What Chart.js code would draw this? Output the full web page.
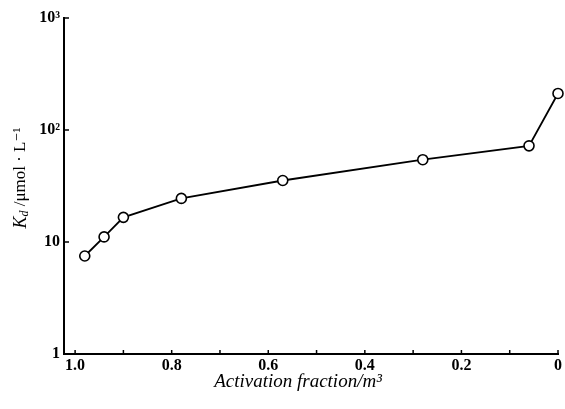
<!DOCTYPE html>
<html>
<head>
<meta charset="utf-8">
<script src="https://cdn.jsdelivr.net/npm/chart.js@4.4.1/dist/chart.umd.min.js"></script>
<style>
  html, body { margin: 0; padding: 0; background: #fff; }
  #wrap { width: 565px; height: 409px; }
</style>
</head>
<body>
<div id="wrap"><canvas id="chart" width="565" height="409"></canvas></div>
<script>
// data
const activation = [0.98, 0.94, 0.90, 0.78, 0.57, 0.28, 0.06, 0.0];
const kd = [7.5, 11.1, 16.6, 24.5, 35.4, 54.3, 72.2, 212];

const xTicks = [1.0, 0.8, 0.6, 0.4, 0.2, 0];
const xTickLabels = ['1.0', '0.8', '0.6', '0.4', '0.2', '0'];
const xMinorTicks = [0.9, 0.7, 0.5, 0.3, 0.1];
const yTicks = [1, 10, 100, 1000];
const yTickLabels = ['1', '10', '10²', '10³'];
const xTitle = 'Activation fraction/m³';

const serif = '"Liberation Serif", "DejaVu Serif", serif';

// inward tick marks and axis titles
const extras = {
    id: 'extras',
    afterDraw(chart) {
        const ctx = chart.ctx;
        const x = chart.scales.x;
        const y = chart.scales.y;
        ctx.save();
        ctx.strokeStyle = '#000';
        ctx.lineWidth = 1.5;
        xTicks.concat(xMinorTicks).forEach(v => {
            const px = x.getPixelForValue(v);
            ctx.beginPath();
            ctx.moveTo(px, x.top);
            ctx.lineTo(px, x.top - 4);
            ctx.stroke();
        });
        yTicks.forEach(v => {
            const py = y.getPixelForValue(v);
            ctx.beginPath();
            ctx.moveTo(y.right, py);
            ctx.lineTo(y.right + 5, py);
            ctx.stroke();
        });

        ctx.fillStyle = '#000';
        ctx.textBaseline = 'middle';
        ctx.textAlign = 'center';
        ctx.font = 'italic 19px ' + serif;
        ctx.fillText(xTitle, 298, 382);

        // y title: K_d /μmol · L⁻¹
        ctx.translate(21, 178);
        ctx.rotate(-Math.PI / 2);
        const parts = [
            { t: 'K', f: 'italic 18px ' + serif, dy: 0 },
            { t: 'd', f: 'italic 12px ' + serif, dy: 4 },
            { t: ' /μmol · L⁻¹', f: '17px ' + serif, dy: 0 }
        ];
        let total = 0;
        parts.forEach(p => { ctx.font = p.f; p.w = ctx.measureText(p.t).width; total += p.w; });
        let cx = -total / 2;
        ctx.textAlign = 'left';
        parts.forEach(p => {
            ctx.font = p.f;
            ctx.fillText(p.t, cx, p.dy);
            cx += p.w;
        });
        ctx.restore();
    }
};

new Chart(document.getElementById('chart'), {
    type: 'scatter',
    data: {
        datasets: [{
            data: activation.map((a, i) => ({ x: a, y: kd[i] })),
            showLine: true,
            borderColor: '#000',
            borderWidth: 1.8,
            pointRadius: 5,
            pointBorderWidth: 1.6,
            pointBackgroundColor: '#fff',
            pointBorderColor: '#000',
            clip: false
        }]
    },
    options: {
        responsive: false,
        animation: false,
        layout: { padding: { top: 18, right: 7, left: 0, bottom: 0 } },
        plugins: {
            legend: { display: false },
            tooltip: { enabled: false }
        },
        scales: {
            x: {
                type: 'linear',
                reverse: true,
                min: 0,
                max: 1.023,
                afterFit: scale => { scale.height = 55; },
                afterBuildTicks: scale => { scale.ticks = xTicks.map(v => ({ value: v })); },
                ticks: {
                    color: '#000',
                    padding: 2,
                    font: { family: serif, size: 16, weight: 'bold' },
                    callback: v => xTickLabels[xTicks.indexOf(v)]
                },
                grid: { display: false, drawTicks: false },
                border: { display: true, color: '#000', width: 2 }
            },
            y: {
                type: 'logarithmic',
                min: 1,
                max: 1000,
                afterFit: scale => { scale.width = 64; },
                afterBuildTicks: scale => { scale.ticks = yTicks.map(v => ({ value: v })); },
                ticks: {
                    color: '#000',
                    padding: 4,
                    font: { family: serif, size: 16, weight: 'bold' },
                    callback: v => yTickLabels[yTicks.indexOf(v)]
                },
                grid: { display: false, drawTicks: false },
                border: { display: true, color: '#000', width: 2 }
            }
        }
    },
    plugins: [extras]
});
</script>
</body>
</html>
